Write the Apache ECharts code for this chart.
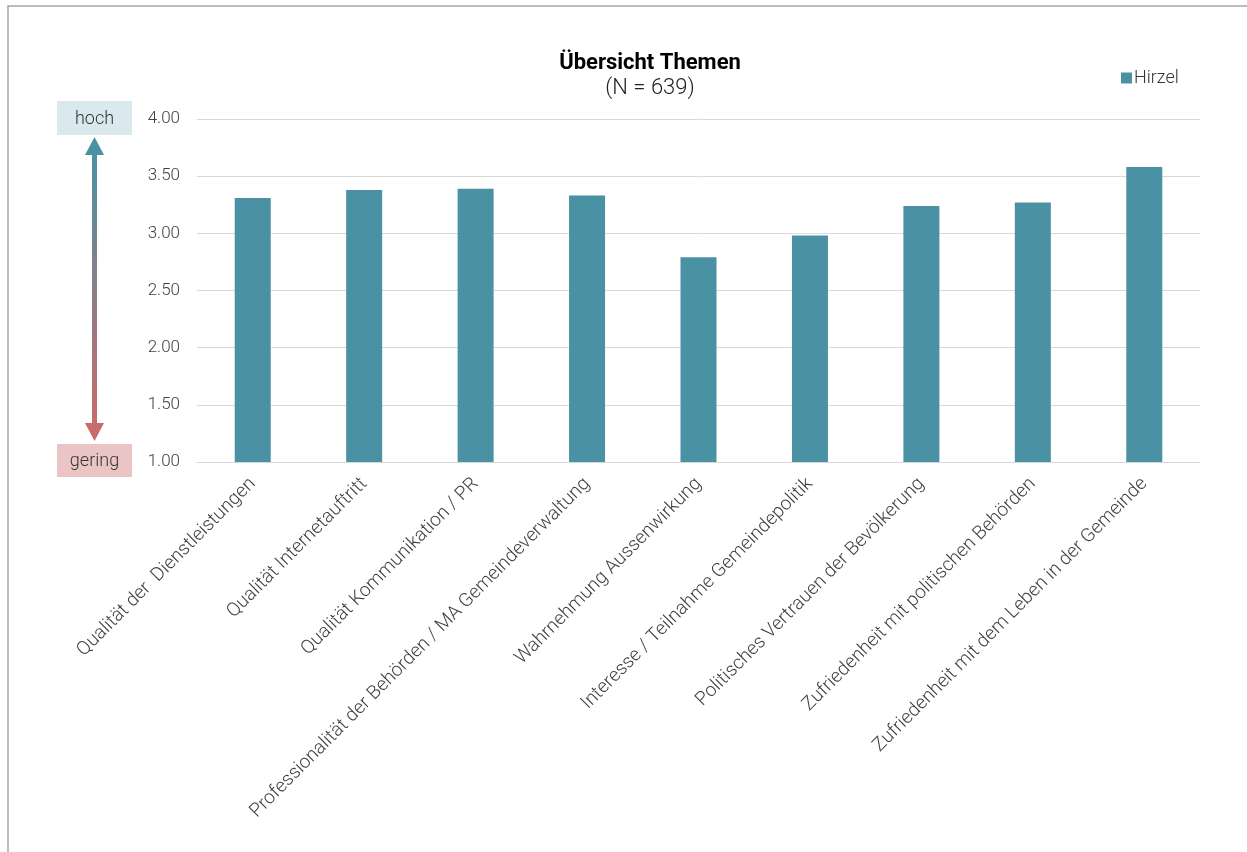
<!DOCTYPE html>
<html>
<head>
<meta charset="utf-8">
<script src="https://cdn.jsdelivr.net/npm/echarts@6/dist/echarts.min.js"></script>
<style>
html,body{margin:0;padding:0;background:#fff;}
#c{width:1247px;height:852px;}
</style>
</head>
<body>
<div id="c"></div>
<script>
const categories = [
  'Qualität der  Dienstleistungen',
  'Qualität Internetauftritt',
  'Qualität Kommunikation / PR',
  'Professionalität der Behörden / MA Gemeindeverwaltung',
  'Wahrnehmung Aussenwirkung',
  'Interesse / Teilnahme Gemeindepolitik',
  'Politisches Vertrauen der Bevölkerung',
  'Zufriedenheit mit politischen Behörden',
  'Zufriedenheit mit dem Leben in der Gemeinde'
];
const seriesName = 'Hirzel';
const values = [3.31, 3.38, 3.39, 3.33, 2.79, 2.98, 3.24, 3.27, 3.58];
const yTicks = { min: 1, max: 4, interval: 0.5 };

const chart = echarts.init(document.getElementById('c'));
const font = 'Roboto';
chart.setOption({
  animation: false,
  title: {
    text: 'Übersicht Themen',
    subtext: '(N = 639)',
    left: 645, top: 47, textAlign: 'center',
    itemGap: 3,
    textStyle: { fontFamily: font, fontSize: 22, fontWeight: 'bold', color: '#000' },
    subtextStyle: { fontFamily: font, fontSize: 22, fontWeight: 300, color: '#222' }
  },
  legend: {
    data: [seriesName],
    left: 1116, top: 64,
    icon: 'rect', itemWidth: 11, itemHeight: 11, itemGap: 2,
    textStyle: { fontFamily: font, fontSize: 18, fontWeight: 300, color: '#333', padding: [0, 0, 0, -3] }
  },
  grid: { left: 197, right: 47, top: 119, bottom: 390, containLabel: false },
  xAxis: {
    type: 'category',
    data: categories,
    axisLine: { show: true, lineStyle: { color: '#d9d9d9' } },
    axisTick: { show: false },
    axisLabel: { rotate: 45, interval: 0, fontFamily: font, fontSize: 19, fontWeight: 300, color: '#404040', margin: 19 }
  },
  yAxis: {
    type: 'value',
    min: yTicks.min, max: yTicks.max, interval: yTicks.interval,
    axisLine: { show: false },
    axisTick: { show: false },
    splitLine: { lineStyle: { color: '#d9d9d9' } },
    axisLabel: { formatter: v => v.toFixed(2), fontFamily: font, fontSize: 17, fontWeight: 300, color: '#404040', margin: 17 }
  },
  series: [{
    name: seriesName,
    type: 'bar',
    data: values,
    barWidth: 36,
    itemStyle: { color: '#4a91a4' }
  }],
  graphic: [
    { type: 'rect', shape: { x: 8, y: 6, width: 1400, height: 1000 }, style: { fill: 'none', stroke: '#a6a6a6', lineWidth: 1.5 }, silent: true },
    { type: 'rect', shape: { x: 57, y: 101, width: 75, height: 34 }, style: { fill: '#dae9ee' } },
    { type: 'text', x: 94.5, y: 119, style: { text: 'hoch', fontFamily: font, fontSize: 18, fontWeight: 300, fill: '#333', align: 'center', verticalAlign: 'middle' } },
    { type: 'rect', shape: { x: 57, y: 444, width: 75, height: 33 }, style: { fill: '#ebc5c6' } },
    { type: 'text', x: 94.5, y: 461, style: { text: 'gering', fontFamily: font, fontSize: 18, fontWeight: 300, fill: '#333', align: 'center', verticalAlign: 'middle' } },
    { type: 'rect', shape: { x: 92, y: 152, width: 5, height: 274 },
      style: { fill: new echarts.graphic.LinearGradient(0, 0, 0, 1, [{ offset: 0, color: '#4a91a4' }, { offset: 1, color: '#c96b6b' }]) } },
    { type: 'polygon', shape: { points: [[94.5, 137], [85, 155], [104, 155]] }, style: { fill: '#4a91a4' } },
    { type: 'polygon', shape: { points: [[94.5, 441], [85, 423], [104, 423]] }, style: { fill: '#c96b6b' } }
  ]
});
</script>
</body>
</html>
